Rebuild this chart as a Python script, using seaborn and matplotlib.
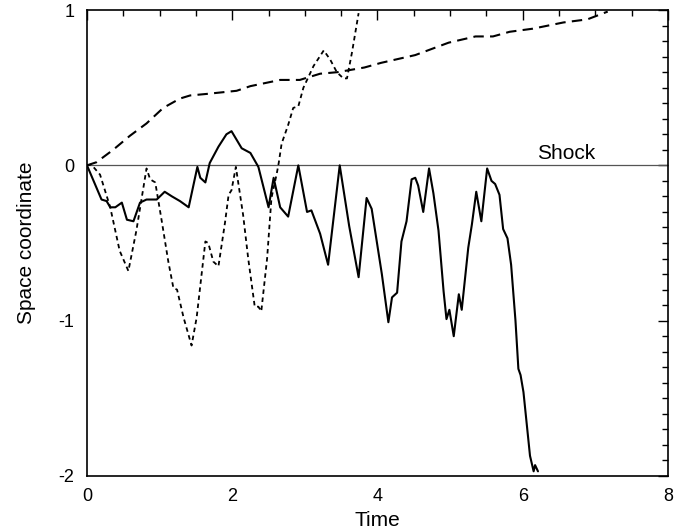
import numpy as np
import matplotlib
matplotlib.use("Agg")
import matplotlib.pyplot as plt
from matplotlib.ticker import MultipleLocator
import seaborn as sns
import pandas as pd

# solid trajectory
t_solid = [0.0, 0.10, 0.20, 0.27, 0.32, 0.39, 0.48, 0.55, 0.64, 0.73, 0.82, 0.96,
           1.07, 1.17, 1.28, 1.40, 1.52, 1.56, 1.63, 1.69, 1.81, 1.92, 1.99, 2.13,
           2.25, 2.36, 2.50, 2.57, 2.66, 2.77, 2.91, 3.03, 3.09, 3.21, 3.32, 3.48,
           3.61, 3.74, 3.85, 3.92, 4.06, 4.15, 4.20, 4.27, 4.33, 4.40, 4.47, 4.52,
           4.56, 4.63, 4.71, 4.77, 4.84, 4.91, 4.95, 4.99, 5.05, 5.12, 5.16, 5.25,
           5.30, 5.36, 5.43, 5.51, 5.57, 5.62, 5.68, 5.73, 5.79, 5.84, 5.90, 5.94,
           5.97, 6.01, 6.10, 6.15, 6.17, 6.21]
y_solid = [0.0, -0.11, -0.22, -0.23, -0.27, -0.27, -0.24, -0.35, -0.36, -0.24, -0.22, -0.22,
           -0.17, -0.20, -0.23, -0.27, -0.01, -0.08, -0.11, 0.015, 0.12, 0.20, 0.22, 0.11,
           0.08, -0.01, -0.27, -0.08, -0.27, -0.33, 0.0, -0.30, -0.29, -0.44, -0.64, 0.0,
           -0.39, -0.72, -0.21, -0.28, -0.70, -1.01, -0.85, -0.82, -0.49, -0.36, -0.09, -0.08,
           -0.13, -0.30, -0.02, -0.18, -0.42, -0.81, -0.99, -0.93, -1.10, -0.83, -0.93, -0.53,
           -0.38, -0.17, -0.36, -0.02, -0.10, -0.12, -0.19, -0.41, -0.47, -0.64, -1.0, -1.31,
           -1.35, -1.46, -1.87, -1.97, -1.93, -1.97]

# short-dash trajectory
t_dot = [0.0, 0.06, 0.18, 0.32, 0.45, 0.57, 0.68, 0.82, 0.87, 0.94, 1.03, 1.12,
         1.19, 1.24, 1.33, 1.44, 1.51, 1.63, 1.67, 1.74, 1.81, 1.90, 1.95, 1.99,
         2.05, 2.15, 2.22, 2.31, 2.36, 2.40, 2.48, 2.54, 2.61, 2.64, 2.68, 2.77,
         2.84, 2.91, 2.98, 3.07, 3.12, 3.19, 3.26, 3.35, 3.44, 3.53, 3.58, 3.65, 3.74]
y_dot = [0.0, 0.005, -0.06, -0.27, -0.55, -0.68, -0.42, -0.02, -0.09, -0.11, -0.36, -0.62,
         -0.79, -0.80, -0.98, -1.16, -0.98, -0.49, -0.50, -0.62, -0.65, -0.37, -0.19, -0.16,
         -0.01, -0.32, -0.60, -0.91, -0.91, -0.94, -0.60, -0.21, -0.06, 0.015, 0.14, 0.26,
         0.37, 0.38, 0.50, 0.59, 0.64, 0.69, 0.74, 0.68, 0.60, 0.56, 0.56, 0.73, 0.98]

# long-dash trajectory
t_dash = [0.0, 0.13, 0.36, 0.59, 0.82, 1.05, 1.28, 1.42, 1.65, 2.06, 2.25, 2.66,
          2.93, 3.21, 3.45, 3.82, 4.05, 4.52, 4.98, 5.35, 5.59, 5.82, 6.14, 6.56,
          6.89, 7.17]
y_dash = [0.0, 0.02, 0.10, 0.19, 0.27, 0.37, 0.43, 0.45, 0.46, 0.48, 0.51, 0.55,
          0.55, 0.59, 0.60, 0.63, 0.66, 0.71, 0.79, 0.83, 0.83, 0.86, 0.88, 0.92,
          0.94, 0.99]

sns.set_style("white")
plt.rcParams['font.family'] = ['Liberation Sans', 'DejaVu Sans']
plt.rcParams['axes.unicode_minus'] = False
plt.rcParams['text.color'] = 'black'
plt.rcParams['axes.labelcolor'] = 'black'
plt.rcParams['xtick.color'] = 'black'
plt.rcParams['ytick.color'] = 'black'

fig = plt.figure(figsize=(6.92, 5.31), dpi=100)
ax = fig.add_axes([0.1257, 0.1036, 0.8396, 0.8775])

ax.axhline(0, color='#555555', lw=0.9, zorder=1)

sns.lineplot(x=t_solid, y=y_solid, ax=ax, color='black', lw=1.5, sort=False)
sns.lineplot(x=t_dot, y=y_dot, ax=ax, color='black', lw=1.3, sort=False,
             linestyle=(0, (2.5, 2)))
sns.lineplot(x=t_dash, y=y_dash, ax=ax, color='black', lw=1.5, sort=False,
             linestyle=(0, (5, 3)))

ax.text(6.6, 0.015, "Shock", fontsize=15, ha='center', va='bottom')

ax.set_xlim(0, 8)
ax.set_ylim(-2, 1)
ax.xaxis.set_major_locator(MultipleLocator(2))
ax.xaxis.set_minor_locator(MultipleLocator(0.5))
ax.yaxis.set_major_locator(MultipleLocator(1))
ax.yaxis.set_minor_locator(MultipleLocator(0.1))
ax.tick_params(which='both', direction='in', top=True, right=True,
               color='black', labelcolor='black')
ax.tick_params(which='major', length=7, width=1, labelsize=13)
ax.tick_params(which='minor', length=4, width=1)
ax.tick_params(axis='x', which='major', pad=9)
ax.tick_params(axis='y', which='major', pad=9)
for s in ax.spines.values():
    s.set_color('black')
    s.set_linewidth(1.2)

ax.set_xlabel("Time", fontsize=15, labelpad=4)
ax.set_ylabel("Space coordinate", fontsize=15, labelpad=16)

fig.savefig("out.png", dpi=100)
